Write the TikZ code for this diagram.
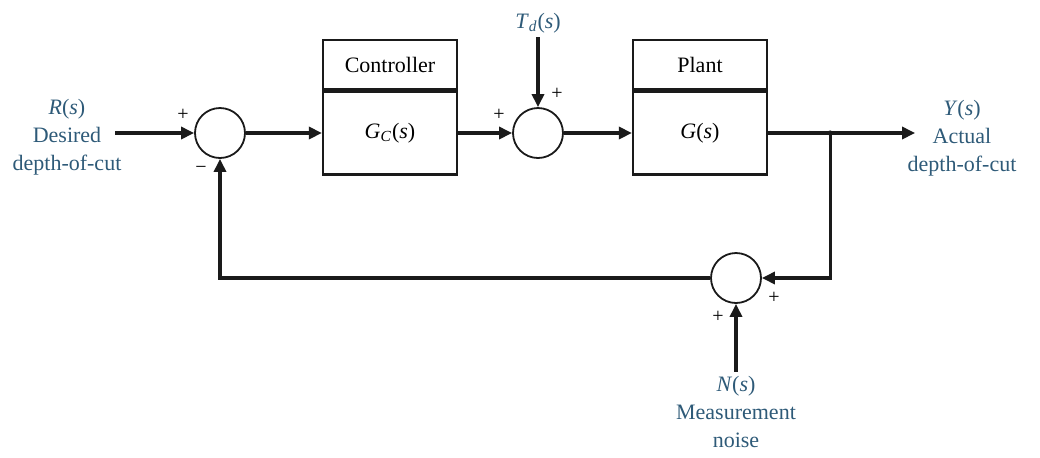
\documentclass[tikz,border=0pt]{standalone}
\usepackage{fontspec}
\setmainfont{Liberation Serif}
\usepackage{xcolor}
\usepackage{tikz}
\usetikzlibrary{arrows.meta,positioning}
\definecolor{sigblue}{HTML}{2E5A78}
\definecolor{inkblack}{HTML}{1A1A1A}
\tikzset{
  sumnode/.style={draw=inkblack,circle,line width=0.9pt,minimum size=25pt,inner sep=0pt},
  blockbody/.style={draw=inkblack,line width=1.1pt,minimum width=67pt,minimum height=41.5pt,
    inner sep=0pt,font=\fontsize{11}{14}\selectfont},
  blockhead/.style={blockbody,minimum height=24.5pt},
  siglabel/.style={align=center,text=sigblue,font=\fontsize{11}{14}\selectfont,inner sep=2pt},
  signmark/.style={font=\fontsize{10}{10}\selectfont,inner sep=0pt},
  sigarrow/.style={-{Triangle[length=6.5pt,width=6pt]},draw=inkblack,line width=1.6pt}
}

\begin{document}
\begin{tikzpicture}[x=0.5pt,y=-0.5pt]
  \useasboundingbox (0,0) rectangle (1040,457);
  \node[sumnode] (sum1) at (220,133) {};
  \node[blockbody,right=38pt of sum1] (ctrl) {\textit{G}\textsubscript{\textit{C}}(\textit{s})};
  \node[blockhead,above=0pt of ctrl] (ctrlhead) {Controller};
  \node[sumnode,right=27pt of ctrl] (sum2) {};
  \node[blockbody,right=34pt of sum2] (plant) {\textit{G}(\textit{s})};
  \node[blockhead,above=0pt of plant] (planthead) {Plant};
  \coordinate[right=31pt of plant] (branch);
  \coordinate[right=42.5pt of branch] (yout);
  \coordinate[left=39.5pt of sum1] (rin);
  \node[sumnode] (sum3) at (736,278) {};
  % signal labels
  \node[siglabel] (rlab) at (67,137) {\textit{R}(\textit{s})\\Desired\\depth-of-cut};
  \node[siglabel] (ylab) at (962,138) {\textit{Y}(\textit{s})\\Actual\\depth-of-cut};
  \node[siglabel,above=35pt of sum2] (tdlab) {\textit{T}\textsubscript{\textit{d}}(\textit{s})};
  \node[siglabel,below=34pt of sum3] (nlab) {\textit{N}(\textit{s})\\Measurement\\noise};
  % signs at the junctions
  \node[signmark] (sg1) at (183,115) {+};
  \node[signmark] (sg2) at (201,170) {−};
  \node[signmark] (sg3) at (499,115) {+};
  \node[signmark] (sg4) at (557,94) {+};
  \node[signmark] (sg5) at (774,298) {+};
  \node[signmark] (sg6) at (718,317) {+};
  % connectors
  \draw[sigarrow] (rin) -- (sum1);
  \draw[sigarrow] (sum1) -- (ctrl);
  \draw[sigarrow] (ctrl) -- (sum2);
  \draw[sigarrow] (tdlab) -- (sum2);
  \draw[sigarrow] (sum2) -- (plant);
  \draw[sigarrow] (plant) -- (yout);
  \draw[sigarrow] (branch) |- (sum3);
  \draw[sigarrow] (sum3) -| (sum1);
  \draw[sigarrow] (nlab) -- (sum3);
  \fill[inkblack] (branch) circle (1.3pt);
\end{tikzpicture}
\end{document}
